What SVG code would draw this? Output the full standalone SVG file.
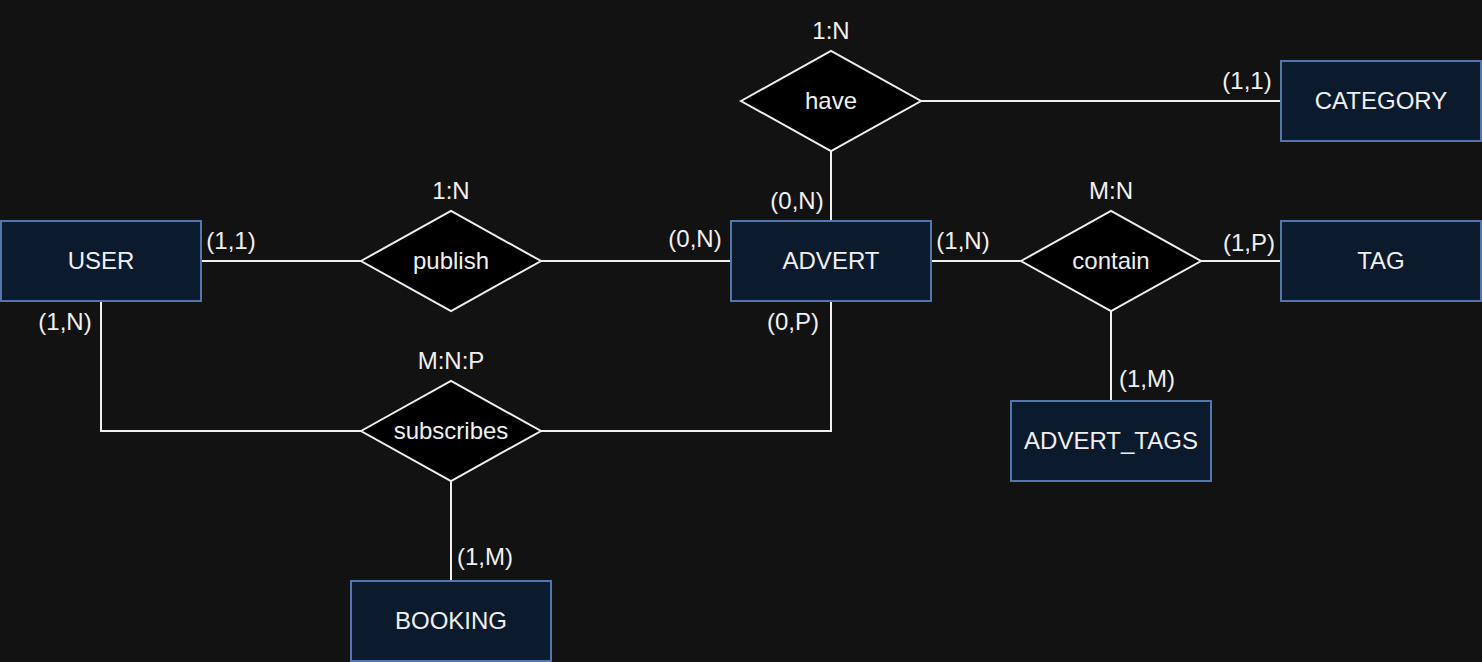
<svg xmlns="http://www.w3.org/2000/svg" width="1482" height="662" viewBox="0 0 1482 662">
<style>
.ent rect{fill:#0c1a2d;stroke:#5277ae;stroke-width:2}
.rel polygon{fill:#000;stroke:#f0f0f0;stroke-width:2}
text{font-family:"Liberation Sans",Arial,sans-serif;font-size:24px;fill:#f0f0f0;text-anchor:middle;dominant-baseline:central}
.conn path{fill:none;stroke:#f0f0f0;stroke-width:2}
</style>
<rect width="1482" height="662" fill="#121212"/>
<g class="conn" id="connectors">
<path d="M201 261H361"/>
<path d="M541 261H731"/>
<path d="M831 151V221"/>
<path d="M921 101H1281"/>
<path d="M931 261H1021"/>
<path d="M1201 261H1281"/>
<path d="M1111 311V401"/>
<path d="M101 301V431H361"/>
<path d="M831 301V431H541"/>
<path d="M451 481V581"/>
</g>
<g id="USER" class="ent"><rect x="1" y="221" width="200" height="80"/><text x="101" y="260">USER</text></g>
<g id="ADVERT" class="ent"><rect x="731" y="221" width="200" height="80"/><text x="831" y="260">ADVERT</text></g>
<g id="CATEGORY" class="ent"><rect x="1281" y="61" width="200" height="80"/><text x="1381" y="100">CATEGORY</text></g>
<g id="TAG" class="ent"><rect x="1281" y="221" width="200" height="80"/><text x="1381" y="260">TAG</text></g>
<g id="ADVERT_TAGS" class="ent"><rect x="1011" y="401" width="200" height="80"/><text x="1111" y="440">ADVERT_TAGS</text></g>
<g id="BOOKING" class="ent"><rect x="351" y="581" width="200" height="80"/><text x="451" y="620">BOOKING</text></g>
<g id="publish" class="rel"><polygon points="361,261 451,211 541,261 451,311"/><text x="451" y="260">publish</text></g>
<g id="have" class="rel"><polygon points="741,101 831,51 921,101 831,151"/><text x="831" y="100">have</text></g>
<g id="contain" class="rel"><polygon points="1021,261 1111,211 1201,261 1111,311"/><text x="1111" y="260">contain</text></g>
<g id="subscribes" class="rel"><polygon points="361,431 451,381 541,431 451,481"/><text x="451" y="430">subscribes</text></g>
<g id="labels">
<text x="451" y="190">1:N</text>
<text x="831" y="30">1:N</text>
<text x="1111" y="190">M:N</text>
<text x="451" y="360">M:N:P</text>
<text x="231" y="240">(1,1)</text>
<text x="695" y="238">(0,N)</text>
<text x="797" y="200">(0,N)</text>
<text x="1247" y="80">(1,1)</text>
<text x="963" y="240">(1,N)</text>
<text x="1249" y="242">(1,P)</text>
<text x="1147" y="378">(1,M)</text>
<text x="65" y="321">(1,N)</text>
<text x="793" y="321">(0,P)</text>
<text x="485" y="556">(1,M)</text>
</g>
</svg>
